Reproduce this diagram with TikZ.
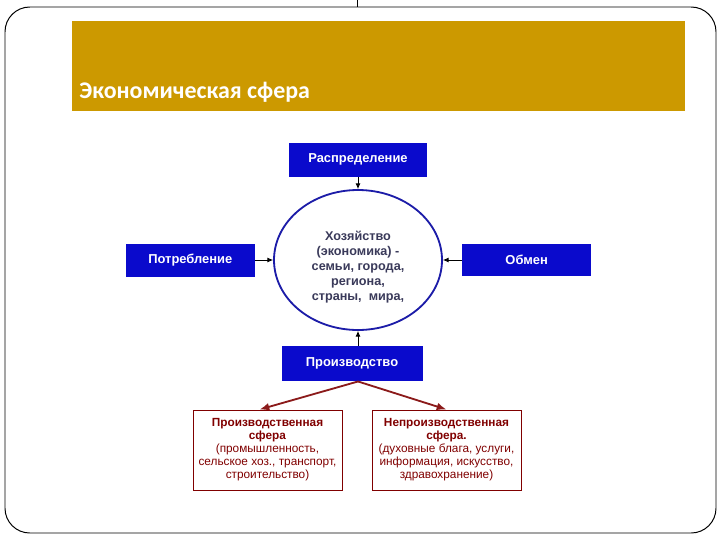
\documentclass[tikz,border=0pt]{standalone}
\usepackage{fontspec}
\setmainfont{Liberation Sans}
\newfontfamily\titlefont{Carlito}
\usetikzlibrary{arrows.meta,positioning,shapes.geometric}

\definecolor{bannergold}{HTML}{CC9900}
\definecolor{boxblue}{HTML}{0A0ACC}
\definecolor{ringblue}{HTML}{1C1CA8}
\definecolor{sferared}{HTML}{800000}
\definecolor{arrred}{HTML}{8B1A1A}
\definecolor{ringtext}{HTML}{3A3A5A}

\begin{document}
\begin{tikzpicture}[
  bluebox/.style={fill=boxblue, text=white, inner sep=0pt, font=\fontsize{9.2}{11}\selectfont\bfseries},
  ring/.style={ellipse, draw=ringblue, line width=1.3pt, fill=white, inner sep=0pt, minimum width=4.2cm, minimum height=3.5cm, align=center, text=ringtext, font=\fontsize{9}{10.7}\selectfont\bfseries},
  sferabox/.style={draw=sferared, line width=0.7pt, align=center, text=sferared, minimum width=3.725cm, minimum height=2cm, inner sep=0pt, font=\fontsize{8.4}{9.3}\selectfont},
  arr/.style={-{Latex[length=4pt,width=3.5pt]}, line width=0.6pt},
  redarr/.style={-{Latex[length=7pt,width=5.5pt]}, line width=1.3pt, draw=arrred, color=arrred}
]
\useasboundingbox (0,0) rectangle (18,-13.5);

% frame and title banner
\draw[line width=0.7pt, rounded corners=0.62cm] (0.125,-0.175) rectangle (17.9,-13.325);
\draw[line width=0.5pt] (8.93,0) -- (8.93,-0.175);
\fill[bannergold] (1.8,-0.525) rectangle (17.125,-2.775);
\node[anchor=base west, text=white, inner sep=0pt, font=\titlefont\fontsize{17}{20}\selectfont\bfseries] (title) at (1.98,-2.45) {Экономическая сфера};

% centre
\node[ring] (econ) at (8.95,-6.5) {\rule{0pt}{17pt}Хозяйство\\(экономика) -\\семьи, города,\\региона,\\страны,\ \ мира,};

\node[bluebox, minimum width=3.45cm, minimum height=0.85cm, above=0.3cm of econ] (distr) {Распределение};
\node[bluebox, minimum width=3.225cm, minimum height=0.825cm, left=0.45cm of econ] (consum) {Потребление};
\node[bluebox, minimum width=3.225cm, minimum height=0.8cm, right=0.475cm of econ] (exch) {Обмен};
\node[bluebox, minimum width=3.525cm, minimum height=0.875cm, below=0.375cm of econ, xshift=-0.15cm] (prod) {Производство};

\draw[arr] (distr) -- (econ);
\draw[arr] (consum) -- (econ);
\draw[arr] (exch) -- (econ);
\draw[arr] (econ.south |- prod.north) -- (econ.south);

% two spheres
\node[sferabox] (prodsf) at (6.6875,-11.25) {\textbf{Производственная}\\\textbf{сфера}\\(промышленность,\\сельское хоз., транспорт,\\строительство)};
\node[sferabox] (nonprodsf) at (11.1625,-11.25) {\textbf{Непроизводственная}\\\textbf{сфера.}\\(духовные блага, услуги,\\информация, искусство,\\здравохранение)};

\draw[redarr] (prod.south) ++(0.15,0) coordinate (fork) -- ([xshift=-0.2cm]prodsf.north);
\draw[redarr] (fork) -- (nonprodsf.north);

\end{tikzpicture}
\end{document}
